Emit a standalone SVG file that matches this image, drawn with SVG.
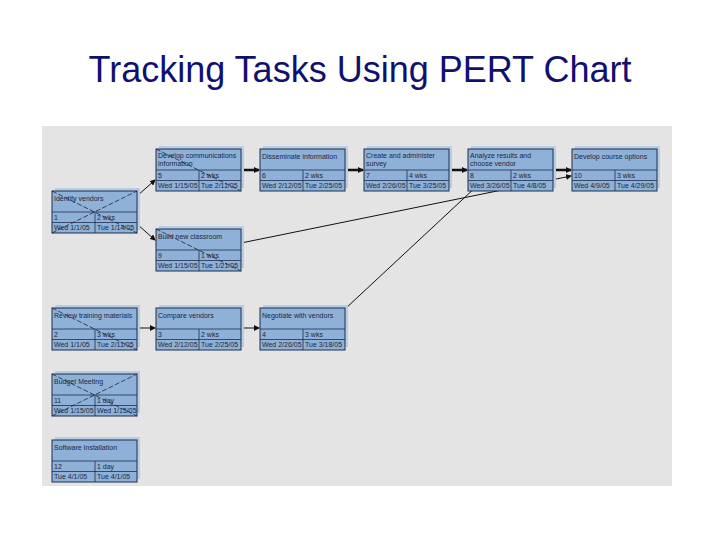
<svg xmlns="http://www.w3.org/2000/svg" width="720" height="540" viewBox="0 0 720 540">
<defs>
<marker id="ah" markerWidth="6" markerHeight="6" refX="5" refY="3" orient="auto" markerUnits="userSpaceOnUse"><path d="M0,0 L6,3 L0,6 Z" fill="#111"/></marker>
<g id="box">
<rect x="3" y="-3" width="85" height="42" fill="#b8cce4"/>
<rect x="0" y="0" width="85" height="42" fill="#8fb1d8" stroke="#1d2f4f" stroke-width="1"/>
<line x1="0" y1="21" x2="85" y2="21" stroke="#1d2f4f" stroke-width="0.8"/>
<line x1="0" y1="31.5" x2="85" y2="31.5" stroke="#1d2f4f" stroke-width="0.8"/>
<line x1="43" y1="21" x2="43" y2="42" stroke="#1d2f4f" stroke-width="0.8"/>
</g>
</defs>
<style>
text{font-family:"Liberation Sans",Arial,sans-serif;fill:#1a2740;font-size:7px}
.t{font-size:36px;fill:#101070}
.c{stroke:#111;stroke-width:1;fill:none;marker-end:url(#ah)}
.k{stroke-width:2.5}
.x{stroke:#1a2740;stroke-width:0.8;stroke-dasharray:5 2}
</style>
<rect width="720" height="540" fill="#fff"/>
<text class="t" x="360" y="82" text-anchor="middle">Tracking Tasks Using PERT Chart</text>
<rect x="42" y="126" width="630" height="360" fill="#e4e4e4"/>
<g id="connectors">
<path class="c" d="M137,196 L155,180"/>
<path class="c" d="M137,224 L155,240"/>
<path class="c k" d="M241,170 L259,170"/>
<path class="c k" d="M345,170 L363,170"/>
<path class="c k" d="M449,170 L467,170"/>
<path class="c k" d="M553,170 L571,170"/>
<path class="c" d="M241,243 L571,176"/>
<path class="c" d="M345,309 L477,186"/>
<path class="c" d="M137,328 L155,328"/>
<path class="c" d="M241,328 L259,328"/>
</g>
<g id="n5" transform="translate(156,149)"><use href="#box"/><text x="2" y="9">Develop communications</text><text x="2" y="17">information</text><text x="2" y="28.5">5</text><text x="45" y="28.5">2 wks</text><text x="2" y="39">Wed 1/15/05</text><text x="45" y="39">Tue 2/11/05</text><line class="x" x1="0" y1="0" x2="85" y2="42"/></g>
<g id="n6" transform="translate(260,149)"><use href="#box"/><text x="2" y="10">Disseminate information</text><text x="2" y="28.5">6</text><text x="45" y="28.5">2 wks</text><text x="2" y="39">Wed 2/12/05</text><text x="45" y="39">Tue 2/25/05</text></g>
<g id="n7" transform="translate(364,149)"><use href="#box"/><text x="2" y="9">Create and administer</text><text x="2" y="17">survey</text><text x="2" y="28.5">7</text><text x="45" y="28.5">4 wks</text><text x="2" y="39">Wed 2/26/05</text><text x="45" y="39">Tue 3/25/05</text></g>
<g id="n8" transform="translate(468,149)"><use href="#box"/><text x="2" y="9">Analyze results and</text><text x="2" y="17">choose vendor</text><text x="2" y="28.5">8</text><text x="45" y="28.5">2 wks</text><text x="2" y="39">Wed 3/26/05</text><text x="45" y="39">Tue 4/8/05</text></g>
<g id="n10" transform="translate(572,149)"><use href="#box"/><text x="2" y="10">Develop course options</text><text x="2" y="28.5">10</text><text x="45" y="28.5">3 wks</text><text x="2" y="39">Wed 4/9/05</text><text x="45" y="39">Tue 4/29/05</text></g>
<g id="n1" transform="translate(52,191)"><use href="#box"/><text x="2" y="10">Identify vendors</text><text x="2" y="28.5">1</text><text x="45" y="28.5">2 wks</text><text x="2" y="39">Wed 1/1/05</text><text x="45" y="39">Tue 1/14/05</text><line class="x" x1="0" y1="0" x2="85" y2="42"/><line class="x" x1="0" y1="42" x2="85" y2="0"/></g>
<g id="n9" transform="translate(156,229)"><use href="#box"/><text x="2" y="10">Build new classroom</text><text x="2" y="28.5">9</text><text x="45" y="28.5">1 wks</text><text x="2" y="39">Wed 1/15/05</text><text x="45" y="39">Tue 1/21/05</text><line class="x" x1="0" y1="0" x2="85" y2="42"/></g>
<g id="n2" transform="translate(52,308)"><use href="#box"/><text x="2" y="10">Review training materials</text><text x="2" y="28.5">2</text><text x="45" y="28.5">3 wks</text><text x="2" y="39">Wed 1/1/05</text><text x="45" y="39">Tue 2/11/05</text><line class="x" x1="0" y1="0" x2="85" y2="42"/></g>
<g id="n3" transform="translate(156,308)"><use href="#box"/><text x="2" y="10">Compare vendors</text><text x="2" y="28.5">3</text><text x="45" y="28.5">2 wks</text><text x="2" y="39">Wed 2/12/05</text><text x="45" y="39">Tue 2/25/05</text></g>
<g id="n4" transform="translate(260,308)"><use href="#box"/><text x="2" y="10">Negotiate with vendors</text><text x="2" y="28.5">4</text><text x="45" y="28.5">3 wks</text><text x="2" y="39">Wed 2/26/05</text><text x="45" y="39">Tue 3/18/05</text></g>
<g id="n11" transform="translate(52,374)"><use href="#box"/><text x="2" y="10">Budget Meeting</text><text x="2" y="28.5">11</text><text x="45" y="28.5">1 day</text><text x="2" y="39">Wed 1/15/05</text><text x="45" y="39">Wed 1/15/05</text><line class="x" x1="0" y1="0" x2="85" y2="42"/><line class="x" x1="0" y1="42" x2="85" y2="0"/></g>
<g id="n12" transform="translate(52,440)"><use href="#box"/><text x="2" y="10">Software Installation</text><text x="2" y="28.5">12</text><text x="45" y="28.5">1 day</text><text x="2" y="39">Tue 4/1/05</text><text x="45" y="39">Tue 4/1/05</text></g>
</svg>
